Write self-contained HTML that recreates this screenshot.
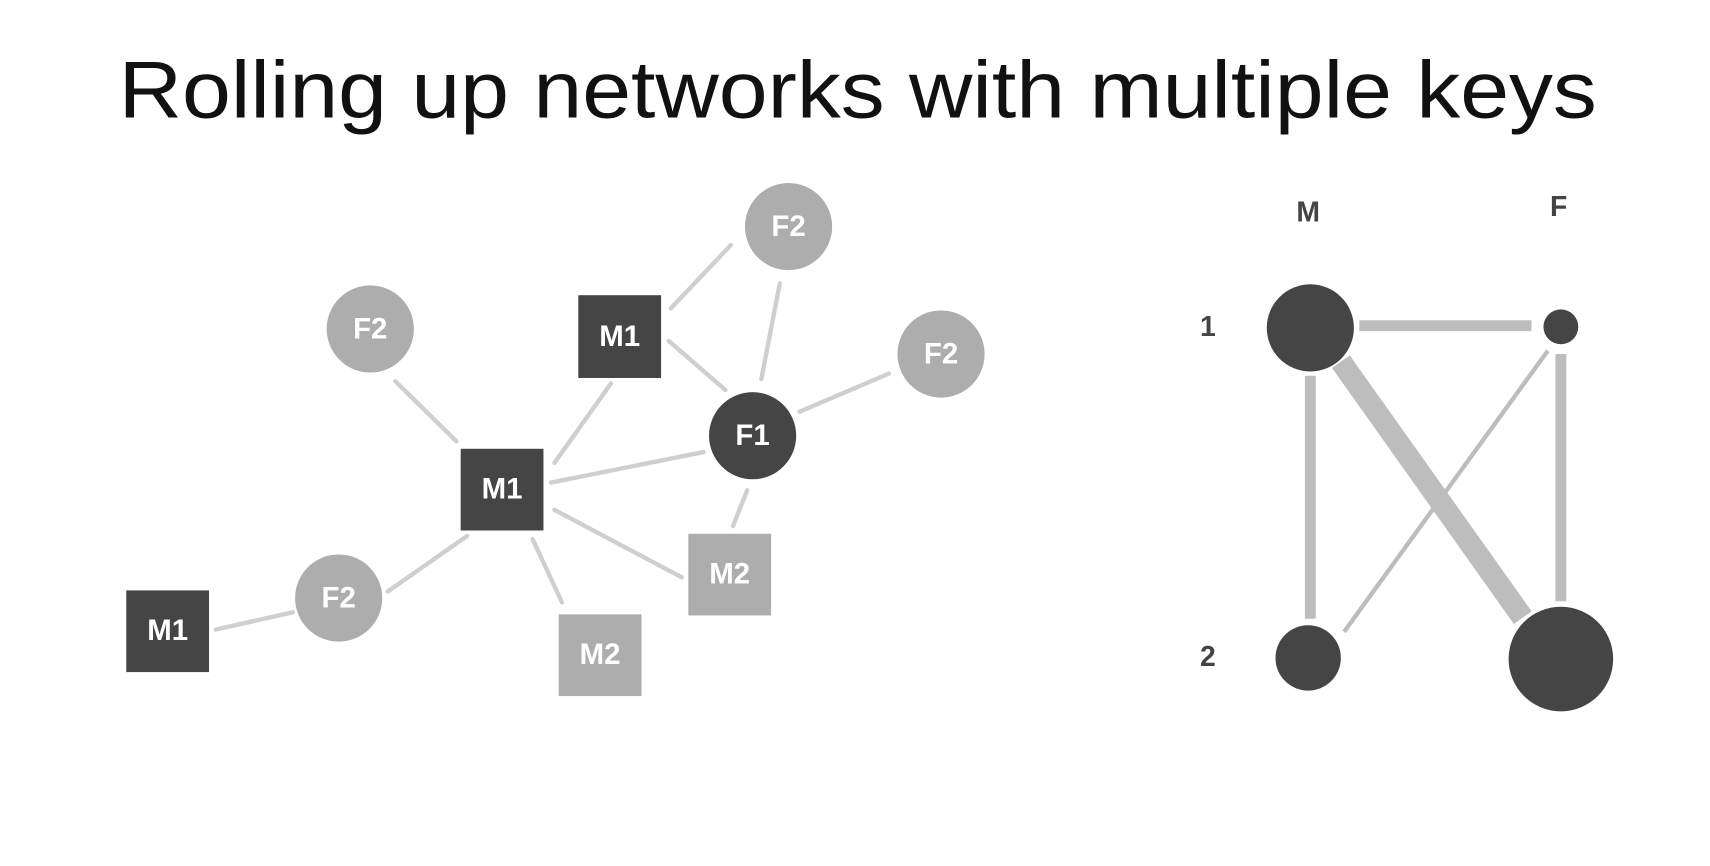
<!DOCTYPE html>
<html><head><meta charset="utf-8"><style>
html,body{margin:0;padding:0;background:#fff;width:1710px;height:866px;overflow:hidden}
svg{display:block}
.t{font-family:"Liberation Sans",sans-serif;font-weight:bold;fill:#fff;font-size:27px;text-anchor:middle;dominant-baseline:central}
.l{font-family:"Liberation Sans",sans-serif;font-weight:bold;fill:#444;font-size:26px;text-anchor:middle;dominant-baseline:central}
</style></head><body>
<svg width="1710" height="866" viewBox="0 0 1568 795" xmlns="http://www.w3.org/2000/svg">
<rect width="1568" height="795" fill="#fff"/>
<text x="786.5" y="108" font-family="'Liberation Sans',sans-serif" font-size="74" fill="#111" text-anchor="middle" textLength="1357" lengthAdjust="spacingAndGlyphs">Rolling up networks with multiple keys</text>
<g stroke="#cfcfcf" stroke-width="4" stroke-linecap="round">
<line x1="615" y1="283" x2="670" y2="225"/>
<line x1="715" y1="260" x2="698" y2="348"/>
<line x1="613" y1="313" x2="665" y2="358"/>
<line x1="733" y1="378" x2="815" y2="343"/>
<line x1="362" y1="350" x2="418" y2="405"/>
<line x1="560" y1="352" x2="508" y2="425"/>
<line x1="505" y1="443" x2="645" y2="415"/>
<line x1="685" y1="450" x2="672" y2="483"/>
<line x1="508" y1="468" x2="625" y2="530"/>
<line x1="488" y1="495" x2="515" y2="553"/>
<line x1="428" y1="492" x2="355" y2="543"/>
<line x1="268" y1="562" x2="197" y2="578"/>
</g>
<g fill="#adadad">
<circle cx="723" cy="208" r="40"/><circle cx="339" cy="302" r="40"/>
<circle cx="863" cy="325" r="40"/><circle cx="310" cy="549" r="40"/>
<rect x="631" y="490" width="76" height="75"/><rect x="512" y="564" width="76" height="75"/>
</g>
<g fill="#454545">
<rect x="530" y="271" width="76" height="76"/><circle cx="690" cy="400" r="40"/>
<rect x="422" y="412" width="76" height="75"/><rect x="115" y="542" width="76" height="75"/>
</g>
<text class="t" x="723" y="208">F2</text><text class="t" x="339" y="302">F2</text>
<text class="t" x="863" y="325">F2</text><text class="t" x="310" y="549">F2</text>
<text class="t" x="669" y="527">M2</text><text class="t" x="550" y="601">M2</text>
<text class="t" x="568" y="309">M1</text><text class="t" x="690" y="400">F1</text>
<text class="t" x="460" y="449">M1</text><text class="t" x="153" y="579">M1</text>

<g stroke="#bdbdbd" stroke-linecap="butt">
<line x1="1247" y1="299" x2="1405" y2="299" stroke-width="10"/>
<line x1="1202" y1="345" x2="1202" y2="568" stroke-width="10"/>
<line x1="1230" y1="332" x2="1397" y2="567" stroke-width="20"/>
<line x1="1420" y1="322" x2="1233" y2="580" stroke-width="4"/>
<line x1="1432" y1="325" x2="1432" y2="552" stroke-width="10"/>
</g>
<g fill="#454545">
<circle cx="1202" cy="301" r="40"/><circle cx="1432" cy="300" r="16"/>
<circle cx="1200" cy="604" r="30"/><circle cx="1432" cy="605" r="48"/>
</g>
<text class="l" x="1200" y="195">M</text><text class="l" x="1430" y="190">F</text>
<text class="l" x="1108" y="300">1</text><text class="l" x="1108" y="603">2</text>
</svg>
</body></html>
